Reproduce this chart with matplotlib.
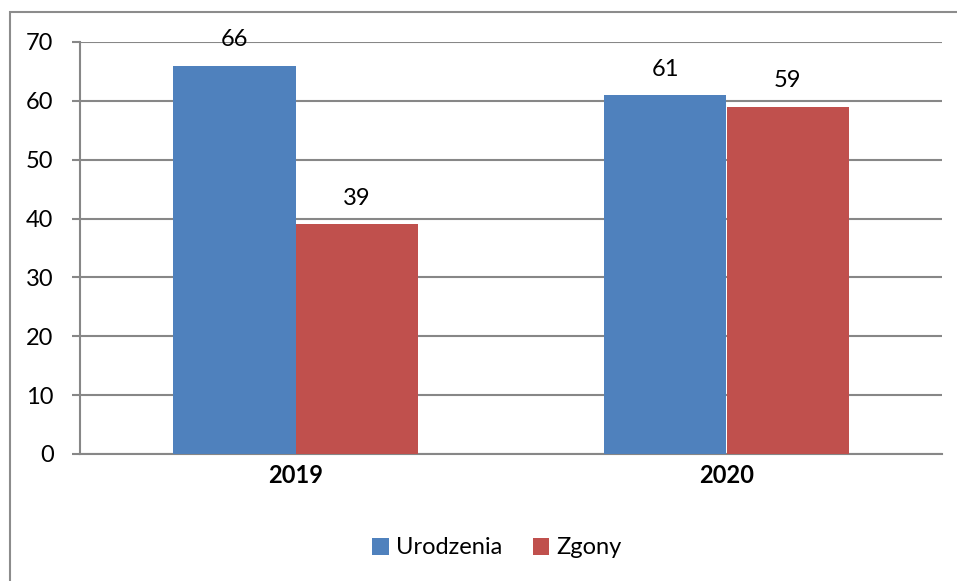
import matplotlib
matplotlib.use("Agg")
import matplotlib.pyplot as plt
from matplotlib.patches import Rectangle
import numpy as np

# dane
lata = ["2019", "2020"]
urodzenia = [66, 61]
zgony = [39, 59]
serie = ["Urodzenia", "Zgony"]

plt.rcParams['font.family'] = ['Lato', 'DejaVu Sans']
fs = 17

fig = plt.figure(figsize=(9.57, 5.81), dpi=100)
W, H = 957, 581
ax = fig.add_axes([80 / W, 1 - 454 / H, (942 - 80) / W, (454 - 42) / H])

# ramka wykresu (ucięta z prawej i od dołu)
fig.patches.append(Rectangle((10 / W, -0.05), 1.2, 1 - 12 / H + 0.05,
                             transform=fig.transFigure, fill=False,
                             edgecolor="#8c8c8c", linewidth=1.5))

x = np.arange(len(lata))
w = 0.285
b1 = ax.bar(x - w / 2, urodzenia, w, color="#4F81BD", label=serie[0], zorder=3)
b2 = ax.bar(x + w / 2, zgony, w, color="#C0504D", label=serie[1], zorder=3)

for bars in (b1, b2):
    for r in bars:
        ax.annotate(f"{r.get_height():.0f}", (r.get_x() + r.get_width() / 2, r.get_height()),
                    xytext=(0, 11), textcoords="offset points", ha="center", va="bottom",
                    fontsize=fs)

ax.set_xlim(-0.5, 1.5)
ax.set_ylim(0, 70)
ax.set_yticks(range(0, 71, 10))
ax.yaxis.grid(True, color="#878787", linewidth=1.5, zorder=0)
ax.set_axisbelow(True)
ax.set_xticks(x)
ax.set_xticklabels(lata, fontweight="bold", fontsize=fs)
ax.tick_params(axis="x", length=0, pad=7)
ax.tick_params(axis="y", length=6, width=1.5, color="#878787", labelsize=fs, pad=13)
for s in ["top", "right"]:
    ax.spines[s].set_visible(False)
ax.spines["left"].set_color("#878787")
ax.spines["left"].set_linewidth(1.5)
ax.spines["bottom"].set_color("#878787")
ax.spines["bottom"].set_linewidth(1.5)

fig.legend(loc="center", bbox_to_anchor=(497 / W, 1 - 548 / H), ncol=2, frameon=False,
           fontsize=fs, handlelength=0.7, handleheight=0.7, columnspacing=1.3, handletextpad=0.3)

fig.savefig("out.png", dpi=100)
